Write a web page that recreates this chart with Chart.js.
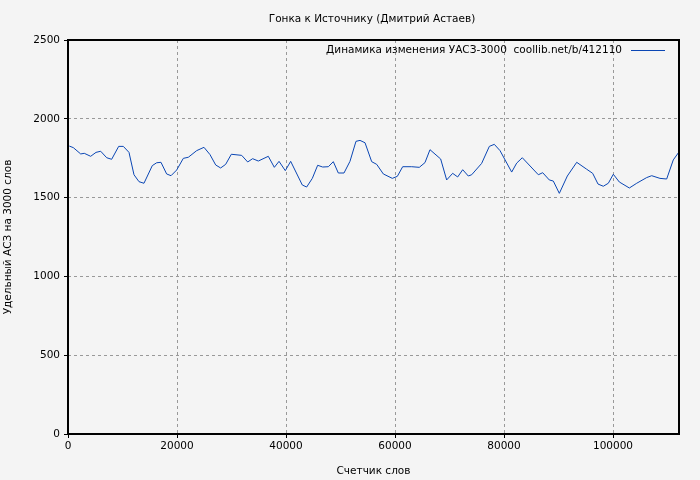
<!DOCTYPE html>
<html>
<head>
<meta charset="utf-8">
<script src="https://cdn.jsdelivr.net/npm/chart.js@4"></script>
<style>
  html, body { margin: 0; padding: 0; background: #f4f4f4; }
  #wrap { width: 700px; height: 480px; }
</style>
</head>
<body>
<div id="wrap"><canvas id="c"></canvas></div>
<script>
const words = [240, 980, 2330, 2990, 4160, 5140, 6000, 7100, 8010, 9300, 10150, 11190, 12110, 13030, 13940,
  15470, 16270, 17060, 18100, 18900, 19940, 21160, 22080, 23610, 24950, 26050, 27100, 28010, 28930, 29970,
  31870, 32970, 33880, 34920, 36750, 37860, 38720, 39870, 40860, 42990, 43790, 44830, 45810, 46730, 47770,
  48680, 49600, 50640, 51740, 52840, 53580, 54500, 55720, 56640, 57860, 59510, 60430, 61410, 63060, 64460,
  65500, 66420, 68380, 69480, 70580, 71500, 72420, 73450, 74070, 75900, 77310, 78220, 79270, 81410, 82330,
  83360, 86300, 87100, 88310, 89050, 90150, 91620, 93340, 95170, 96270, 97250, 98220, 99140, 100060, 101160,
  103000, 104350, 106180, 107100, 108620, 109850, 111060, 112110];
const uasz = [1827, 1817, 1777, 1781, 1762, 1787, 1794, 1753, 1743, 1825, 1825, 1787, 1645, 1601, 1591,
  1703, 1721, 1724, 1650, 1639, 1675, 1749, 1756, 1798, 1819, 1773, 1707, 1688, 1711, 1775,
  1768, 1726, 1747, 1732, 1762, 1692, 1730, 1671, 1730, 1580, 1567, 1622, 1705, 1694, 1696,
  1728, 1656, 1656, 1730, 1857, 1863, 1848, 1728, 1711, 1650, 1622, 1635, 1696, 1696, 1692,
  1722, 1804, 1745, 1612, 1654, 1631, 1677, 1637, 1645, 1717, 1825, 1838, 1798, 1662, 1719,
  1753, 1645, 1658, 1612, 1605, 1527, 1637, 1724, 1680, 1654, 1586, 1572, 1591, 1648, 1599,
  1561, 1591, 1627, 1639, 1622, 1618, 1739, 1790];
const xTicks = [0, 20000, 40000, 60000, 80000, 100000];
const yTicks = [0, 500, 1000, 1500, 2000, 2500];
const titleText = 'Гонка к Источнику (Дмитрий Астаев)';
const legendText = 'Динамика изменения УАСЗ-3000  coollib.net/b/412110';

const FONT = 'DejaVu Sans, sans-serif';
const FS = 10.5;

const extras = {
  id: 'extras',
  afterDraw(chart) {
    const ctx = chart.ctx, a = chart.chartArea;
    ctx.save();
    ctx.fillStyle = '#000';
    ctx.font = FS + 'px ' + FONT;
    ctx.textAlign = 'center';
    ctx.textBaseline = 'middle';
    ctx.fillText(titleText, 372, 19);
    ctx.textAlign = 'right';
    ctx.fillText(legendText, 622, 50);
    ctx.strokeStyle = '#0a46b4';
    ctx.lineWidth = 1;
    ctx.beginPath();
    ctx.moveTo(631, 50.5);
    ctx.lineTo(665, 50.5);
    ctx.stroke();
    ctx.strokeStyle = '#000';
    ctx.lineWidth = 2;
    ctx.strokeRect(a.left, a.top, a.right - a.left, a.bottom - a.top);
    ctx.restore();
  }
};

new Chart(document.getElementById('c'), {
  type: 'line',
  data: {
    datasets: [{
      data: words.map((w, i) => ({ x: w, y: uasz[i] })),
      borderColor: '#0a46b4',
      borderWidth: 1,
      pointRadius: 0,
      tension: 0
    }]
  },
  options: {
    responsive: true,
    maintainAspectRatio: false,
    animation: false,
    devicePixelRatio: 1,
    layout: { padding: { left: 0, right: 21, top: 40, bottom: 0 } },
    plugins: { legend: { display: false }, tooltip: { enabled: false } },
    scales: {
      x: {
        type: 'linear', min: 0, max: 112110,
        afterBuildTicks: s => { s.ticks = xTicks.map(v => ({ value: v })); },
        afterFit: s => { s.height = 46; },
        grid: { color: '#999', tickLength: 4, tickColor: '#000' },
        border: { display: false, dash: [3, 3] },
        ticks: { color: '#000', font: { family: FONT, size: FS }, maxRotation: 0, padding: 2, callback: v => String(v) },
        title: { display: true, text: 'Счетчик слов', color: '#000', font: { family: FONT, size: FS }, padding: 2 }
      },
      y: {
        min: 0, max: 2500,
        afterBuildTicks: s => { s.ticks = yTicks.map(v => ({ value: v })); },
        afterFit: s => { s.width = 68; },
        grid: { color: '#999', tickLength: 4, tickColor: '#000' },
        border: { display: false, dash: [3, 3] },
        ticks: { color: '#000', font: { family: FONT, size: FS }, padding: 4, callback: v => String(v) },
        title: { display: true, text: 'Удельный АСЗ на 3000 слов', color: '#000', font: { family: FONT, size: FS }, padding: 2 }
      }
    }
  },
  plugins: [extras]
});
</script>
</body>
</html>
